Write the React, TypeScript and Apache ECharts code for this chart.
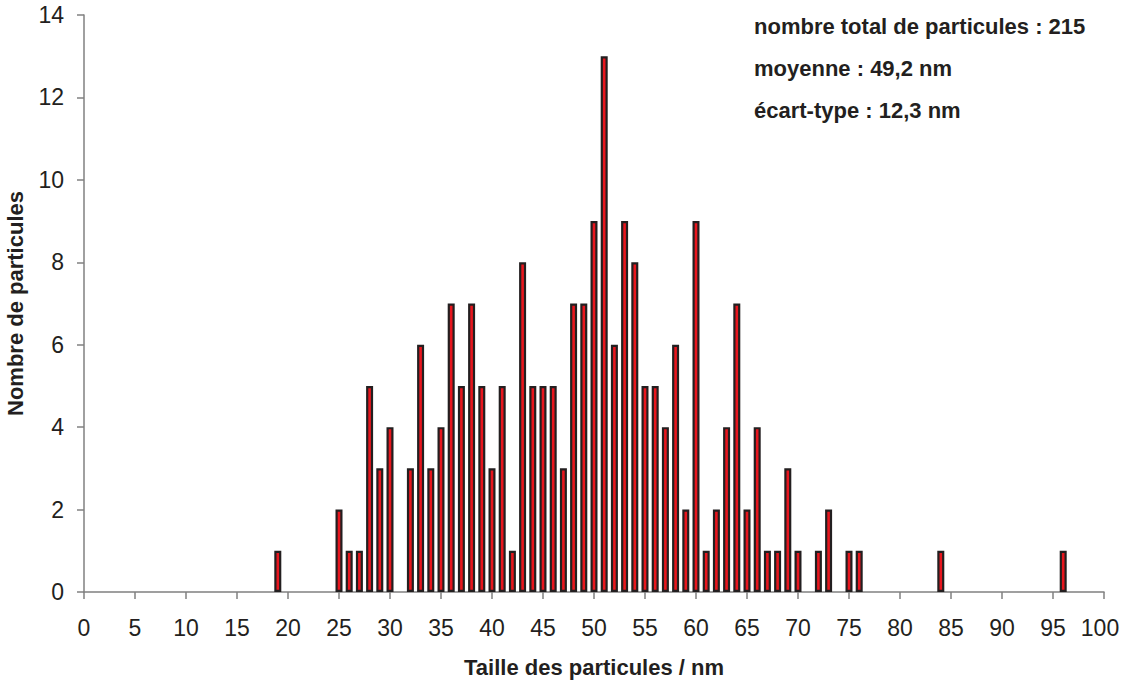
import React, { useEffect, useRef } from "react";
import * as echarts from "echarts";

const sizes = [19, 25, 26, 27, 28, 29, 30, 32, 33, 34, 35, 36, 37, 38, 39, 40, 41, 42, 43, 44, 45, 46, 47, 48, 49, 50, 51, 52, 53, 54, 55, 56, 57, 58, 59, 60, 61, 62, 63, 64, 65, 66, 67, 68, 69, 70, 72, 73, 75, 76, 84, 96];
const counts = [1, 2, 1, 1, 5, 3, 4, 3, 6, 3, 4, 7, 5, 7, 5, 3, 5, 1, 8, 5, 5, 5, 3, 7, 7, 9, 13, 6, 9, 8, 5, 5, 4, 6, 2, 9, 1, 2, 4, 7, 2, 4, 1, 1, 3, 1, 1, 2, 1, 1, 1, 1];
const annotations = [
  "nombre total de particules : 215",
  "moyenne : 49,2 nm",
  "écart-type : 12,3 nm",
];
const xAxisName = "Taille des particules / nm";
const yAxisName = "Nombre de particules";
const xMax = 100;

export default function App() {
  const ref = useRef<HTMLDivElement>(null);
  useEffect(() => {
    if (!ref.current) return;
    const chart = echarts.init(ref.current, null, { renderer: "svg" });
    const font = "Liberation Sans, Arial, sans-serif";
    chart.setOption({
      animation: false,
      backgroundColor: "#ffffff",
      grid: {
        left: 84,
        right: 17,
        top: 15,
        bottom: 90,
        containLabel: false,
        outerBoundsMode: "none",
      },
      xAxis: {
        type: "value",
        min: 0,
        max: xMax,
        interval: 5,
        name: xAxisName,
        nameLocation: "middle",
        nameGap: 64,
        nameTextStyle: { fontFamily: font, fontWeight: "bold", fontSize: 22, color: "#231f20" },
        axisLine: { lineStyle: { color: "#808080", width: 1.5 } },
        axisTick: { show: true, length: 7, lineStyle: { color: "#808080", width: 1.5 } },
        axisLabel: {
          fontFamily: font,
          fontSize: 23,
          color: "#231f20",
          margin: 24,
          showMaxLabel: true,
          showMinLabel: true,
          formatter: (v: number) => (v === xMax ? `{m|${v}}` : `${v}`),
          rich: {
            m: { fontFamily: font, fontSize: 23, color: "#231f20", padding: [0, 8, 0, 0] },
          },
        },
        splitLine: { show: false },
      },
      yAxis: {
        type: "value",
        min: 0,
        max: 14,
        interval: 2,
        name: yAxisName,
        nameLocation: "middle",
        nameGap: 58,
        nameRotate: 90,
        nameTextStyle: { fontFamily: font, fontWeight: "bold", fontSize: 22, color: "#231f20" },
        axisLine: { show: true, lineStyle: { color: "#808080", width: 1.5 } },
        axisTick: { show: true, length: 7, lineStyle: { color: "#808080", width: 1.5 } },
        axisLabel: { fontFamily: font, fontSize: 23, color: "#231f20", margin: 20 },
        splitLine: { show: false },
      },
      series: [
        {
          type: "bar",
          barWidth: 7,
          data: sizes.map((s, i) => [s, counts[i]]),
          itemStyle: { color: "#e8161e", borderColor: "#231f20", borderWidth: 2.2 },
        },
      ],
      graphic: annotations.map((t, i) => ({
        type: "text",
        left: 754,
        top: 15 + i * 42,
        style: { text: t, font: `bold 22px ${font}`, fill: "#231f20" },
      })),
    });
    return () => chart.dispose();
  }, []);
  return (
    <div
      ref={ref}
      style={{ position: "fixed", left: 0, top: 0, width: 1121, height: 682 }}
    />
  );
}
